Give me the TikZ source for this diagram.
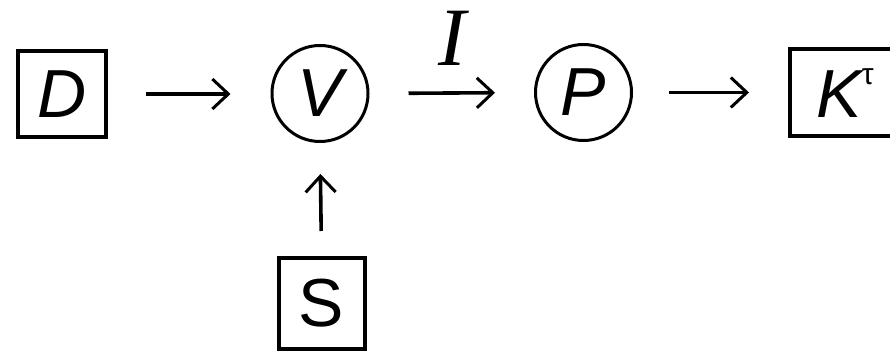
\documentclass[tikz,border=0pt]{standalone}
\usepackage{fontspec}
\setmainfont{Liberation Sans}
\newfontfamily\serifit{Liberation Serif}
\usetikzlibrary{arrows.meta}
\tikzset{
  lbl/.style={font=\fontsize{68}{68}\selectfont\itshape, inner sep=0pt, draw=black},
  sqbox/.style={lbl, rectangle, line width=4pt},
  circbox/.style={lbl, circle, minimum size=96pt, line width=3pt},
  conn/.style={line width=3.6pt, -{Straight Barb[length=16pt,width=30pt,line width=3pt]}},
}
\begin{document}
\begin{tikzpicture}[x=1pt,y=-1pt]
\useasboundingbox (0,0) rectangle (890,352);
\fill[white] (0,0) rectangle (890,352);
\clip (0,0) rectangle (890,352);
\node[sqbox, minimum width=88pt, minimum height=86pt] (D) at (62,94) {D};
\node[circbox] (V) at (320,93.5) {V};
\node[circbox] (P) at (583.5,92.5) {P};
\node[sqbox, minimum width=110pt, minimum height=87pt] (K) at (845,93) {K\raisebox{33pt}{\fontsize{30}{30}\selectfont\upshape τ}};
\node[sqbox, minimum width=86pt, minimum height=91pt, font=\fontsize{68}{68}\selectfont\upshape] (S) at (321.5,303.5) {S};
\node[inner sep=0pt, font=\fontsize{83}{83}\selectfont\serifit\itshape] (I) at (452,38) {I};
\draw[conn, shorten <=38pt, shorten >=40pt] (D.east) -- (D.east -| V.west);
\draw[conn, shorten <=39pt, shorten >=39pt] (V.east) -- (P.west);
\draw[conn, shorten <=36pt, shorten >=39pt] (P.east) -- (P.east -| K.west);
\draw[conn, shorten <=25pt, shorten >=31pt] (S.north) -- (V.south);
\end{tikzpicture}
\end{document}
